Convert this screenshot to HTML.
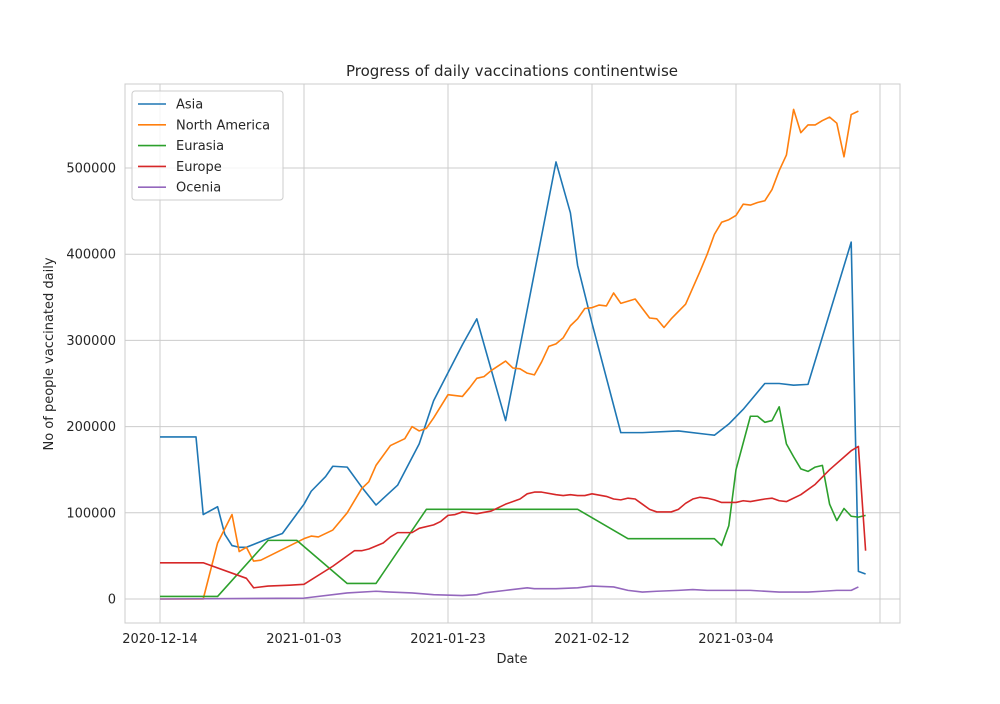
<!DOCTYPE html>
<html><head><meta charset="utf-8"><style>
body{margin:0;background:#fff;font-family:"DejaVu Sans","Liberation Sans",sans-serif;}
svg text{font-family:"DejaVu Sans","Liberation Sans",sans-serif;fill:#262626}
</style></head><body>
<svg id="chart" width="1000" height="700" xmlns="http://www.w3.org/2000/svg"></svg>
<script>
const seriesNames=["Asia","North America","Eurasia","Europe","Ocenia"];
const seriesColors=["#1f77b4","#ff7f0e","#2ca02c","#d62728","#9467bd"];
const xTickLabels=["2020-12-14","2021-01-03","2021-01-23","2021-02-12","2021-03-04"];
const xTickDays=[0,20,40,60,80,100];
const yTicks=[0,100000,200000,300000,400000,500000];
// [day offset from 2020-12-14, value]
const asia=[[0,188000],[5,188000],[6,98000],[8,107000],[9,75000],[10,62000],[11,60000],[12,60000],[15,70000],[17,76000],[20,110000],[21,125000],[23,142000],[24,154000],[26,153000],[28,130000],[30,109000],[33,132000],[36,180000],[38,230000],[42,295000],[44,325000],[48,207000],[55,507000],[57,448000],[58,387000],[60,320000],[64,193000],[67,193000],[72,195000],[76,191000],[77,190000],[79,203000],[81,220000],[83,240000],[84,250000],[86,250000],[88,248000],[90,249000],[96,414000],[97,32000],[98,29000]];
const northAmerica=[[0,0],[6,0],[8,65000],[10,98000],[11,55000],[12,60000],[13,44000],[14,45000],[20,70000],[21,73000],[22,72000],[24,80000],[26,100000],[28,128000],[29,136000],[30,155000],[32,178000],[34,186000],[35,200000],[36,195000],[37,198000],[38,210000],[40,237000],[42,235000],[43,245000],[44,256000],[45,258000],[46,265000],[48,276000],[49,268000],[50,267000],[51,262000],[52,260000],[53,275000],[54,293000],[55,296000],[56,303000],[57,317000],[58,325000],[59,337000],[60,338000],[61,341000],[62,340000],[63,355000],[64,343000],[66,348000],[68,326000],[69,325000],[70,315000],[71,325000],[73,342000],[75,380000],[76,400000],[77,423000],[78,437000],[79,440000],[80,445000],[81,458000],[82,457000],[83,460000],[84,462000],[85,475000],[86,497000],[87,515000],[88,568000],[89,541000],[90,550000],[91,550000],[92,555000],[93,559000],[94,552000],[95,513000],[96,562000],[97,566000]];
const eurasia=[[0,3000],[8,3000],[15,68000],[19,68000],[26,18000],[30,18000],[37,104000],[58,104000],[65,70000],[77,70000],[78,62000],[79,85000],[80,150000],[82,212000],[83,212000],[84,205000],[85,207000],[86,223000],[87,180000],[88,165000],[89,151000],[90,148000],[91,153000],[92,155000],[93,110000],[94,91000],[95,105000],[96,96000],[97,95000],[98,97000]];
const europe=[[0,42000],[6,42000],[12,24000],[13,13000],[15,15000],[18,16000],[20,17000],[24,38000],[26,50000],[27,56000],[28,56000],[29,58000],[31,65000],[32,72000],[33,77000],[35,77000],[36,82000],[38,86000],[39,90000],[40,97000],[41,98000],[42,101000],[43,100000],[44,99000],[46,102000],[48,110000],[50,116000],[51,122000],[52,124000],[53,124000],[55,121000],[56,120000],[57,121000],[58,120000],[59,120000],[60,122000],[62,119000],[63,116000],[64,115000],[65,117000],[66,116000],[67,110000],[68,104000],[69,101000],[71,101000],[72,104000],[73,111000],[74,116000],[75,118000],[76,117000],[77,115000],[78,112000],[80,112000],[81,114000],[82,113000],[84,116000],[85,117000],[86,114000],[87,113000],[89,121000],[91,133000],[93,150000],[96,172000],[97,177000],[98,56000]];
const ocenia=[[0,0],[20,1000],[26,7000],[30,9000],[32,8000],[35,7000],[38,5000],[42,4000],[44,5000],[45,7000],[48,10000],[51,13000],[52,12000],[53,12000],[55,12000],[58,13000],[59,14000],[60,15000],[63,14000],[65,10000],[67,8000],[69,9000],[72,10000],[74,11000],[76,10000],[82,10000],[86,8000],[90,8000],[92,9000],[94,10000],[96,10000],[97,14000]];
const allSeries=[asia,northAmerica,eurasia,europe,ocenia];

const NS="http://www.w3.org/2000/svg";
const svg=document.getElementById('chart');
const L=125,R=900,T=84,B=623;
const x=d=>160+d*7.2;
const y=v=>599-v*86.2/100000;
function el(tag,attrs,parent){const e=document.createElementNS(NS,tag);for(const k in attrs)e.setAttribute(k,attrs[k]);(parent||svg).appendChild(e);return e;}

const bg=el('rect',{x:L,y:T,width:R-L,height:B-T,fill:'#fff'});


xTickDays.forEach((d,i)=>{
  const g=el('line',{x1:x(d),x2:x(d),y1:T,y2:B,stroke:'#cccccc','stroke-width':1});
  
  
  if(xTickLabels[i]){
    const t=el('text',{x:x(d),y:B+20,'text-anchor':'middle','font-size':13});
    t.textContent=xTickLabels[i];
    
    
  }
});
yTicks.forEach(v=>{
  const g=el('line',{x1:L,x2:R,y1:y(v),y2:y(v),stroke:'#cccccc','stroke-width':1});
  
  
  const t=el('text',{x:L-9,y:y(v)+4.5,'text-anchor':'end','font-size':13});
  t.textContent=String(v);
  
  
});
const fr=el('rect',{x:L,y:T,width:R-L,height:B-T,fill:'none',stroke:'#cccccc','stroke-width':1});



allSeries.forEach((s,i)=>{
  const p=el('polyline',{points:s.map(q=>x(q[0])+','+y(q[1])).join(' '),fill:'none',stroke:seriesColors[i],'stroke-width':1.6,'stroke-linejoin':'round'});
  
  
});

const title=el('text',{x:512,y:76,'text-anchor':'middle','font-size':15});
title.textContent='Progress of daily vaccinations continentwise';


const xt=el('text',{x:512,y:663,'text-anchor':'middle','font-size':13});
xt.textContent='Date';


const yt=el('text',{x:0,y:0,'text-anchor':'middle','font-size':13,transform:'translate(53,354) rotate(-90)'});
yt.textContent='No of people vaccinated daily';



const lg=el('g',{});


el('rect',{x:132,y:91,width:151,height:109,rx:3,fill:'#fff','fill-opacity':0.8,stroke:'#cccccc'},lg);
seriesNames.forEach((n,i)=>{
  const yy=104+i*20.8;
  el('line',{x1:138,x2:166,y1:yy,y2:yy,stroke:seriesColors[i],'stroke-width':1.6},lg);
  const t=el('text',{x:176,y:yy+4.5,'font-size':13},lg);
  t.textContent=n;
  
  
});
</script>
</body></html>
